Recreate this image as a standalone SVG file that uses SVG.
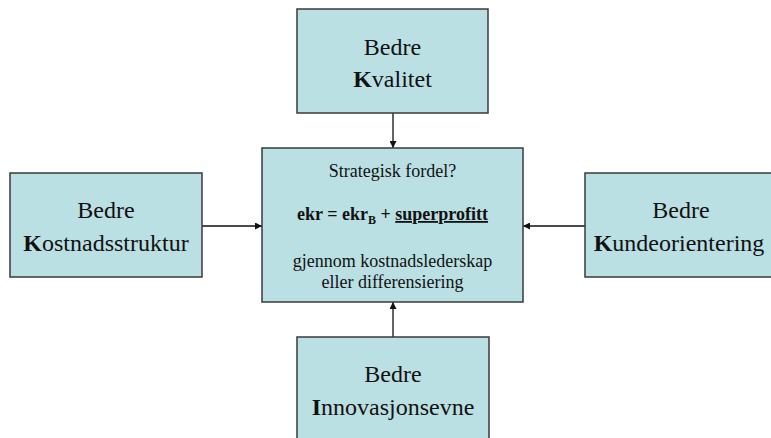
<svg xmlns="http://www.w3.org/2000/svg" width="771" height="438" viewBox="0 0 771 438">
  <style>
    .box { fill: #BBE0E3; stroke: #3a3a3a; stroke-width: 1.5; }
    text { font-family: "Times New Roman", Times, "Liberation Serif", Tinos, "Noto Serif", "DejaVu Serif", serif; fill: #111; text-anchor: middle; }
    .lbl { font-size: 24px; }
    .mid { font-size: 18px; }
    .conn { stroke: #111; stroke-width: 1.3; fill: none; marker-end: url(#arr); }
  </style>
  <defs>
    <marker id="arr" viewBox="0 0 10 10" refX="10" refY="5" markerWidth="7" markerHeight="7" markerUnits="userSpaceOnUse" orient="auto">
      <path d="M0,0 L10,5 L0,10 z" fill="#111"/>
    </marker>
  </defs>
  <rect width="771" height="438" fill="#fff"/>

  <g id="connectors">
    <line class="conn" x1="393" y1="113" x2="393" y2="148"/>
    <line class="conn" x1="202" y1="226" x2="262" y2="226"/>
    <line class="conn" x1="585" y1="226" x2="523" y2="226"/>
    <line class="conn" x1="393" y1="337" x2="393" y2="302"/>
  </g>

  <g id="center">
    <rect class="box" x="262" y="148" width="261" height="154"/>
    <text class="mid" x="392.5" y="177">Strategisk fordel?</text>
    <text class="mid" x="392.5" y="220" font-weight="bold">ekr = ekr<tspan font-size="12" dy="4">B</tspan><tspan dy="-4"> + </tspan><tspan text-decoration="underline">superprofitt</tspan></text>
    <text class="mid" x="392.5" y="267">gjennom kostnadslederskap</text>
    <text class="mid" x="392.5" y="288">eller differensiering</text>
  </g>

  <g id="kvalitet">
    <rect class="box" x="297" y="9" width="191" height="104"/>
    <text class="lbl" x="392.5" y="55">Bedre</text>
    <text class="lbl" x="392.5" y="87"><tspan font-weight="bold">K</tspan>valitet</text>
  </g>

  <g id="kostnadsstruktur">
    <rect class="box" x="10" y="173" width="192" height="104"/>
    <text class="lbl" x="106" y="218">Bedre</text>
    <text class="lbl" x="106" y="251"><tspan font-weight="bold">K</tspan>ostnadsstruktur</text>
  </g>

  <g id="kundeorientering">
    <rect class="box" x="585" y="173" width="192" height="104"/>
    <text class="lbl" x="681" y="218">Bedre</text>
    <text class="lbl" x="679" y="251"><tspan font-weight="bold">K</tspan>undeorientering</text>
  </g>

  <g id="innovasjonsevne">
    <rect class="box" x="297" y="337" width="192" height="110"/>
    <text class="lbl" x="393" y="382">Bedre</text>
    <text class="lbl" x="393" y="415"><tspan font-weight="bold">I</tspan>nnovasjonsevne</text>
  </g>
</svg>
